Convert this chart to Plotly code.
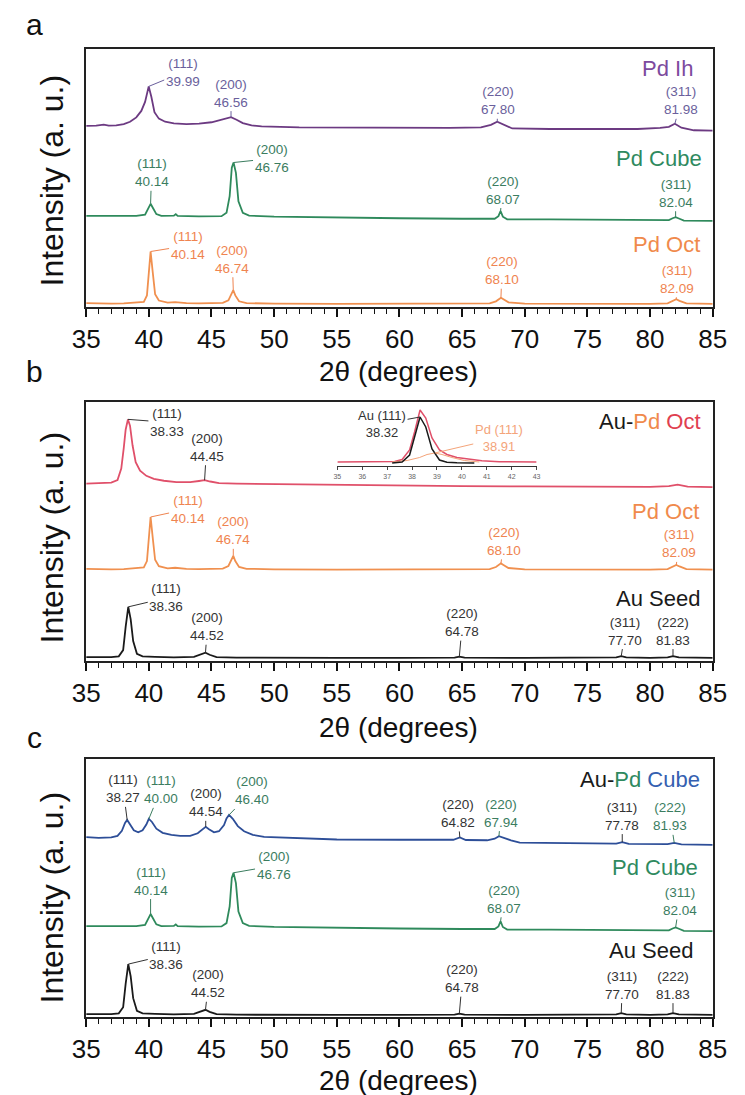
import numpy as np
import plotly.graph_objects as go

# ---------------------------------------------------------------------------
# Digitised XRD patterns: 2-theta (degrees) and intensity (a.u.) above each
# pattern's own baseline.
# ---------------------------------------------------------------------------
PD_IH_X = [35, 35.8, 36.4, 36.8, 37.4, 38.0, 38.5, 39.0, 39.4, 39.7, 39.99, 40.2, 40.45,
           40.8, 41.3, 42, 43, 44, 45, 45.6, 46.1, 46.56, 47.0, 47.5, 48.2, 49, 52, 56,
           60, 64, 66.5, 67.3, 67.8, 68.3, 69, 72, 76, 79, 80.8, 81.5, 81.98, 82.5, 83.5, 85]
PD_IH_Y = [0.2, 0.3, 0.7, 0.3, 0.4, 0.9, 1.8, 3.5, 6.0, 9.5, 15.5, 11.5, 5.5,
           3.0, 1.8, 1.2, 0.9, 1.1, 1.6, 2.3, 3.0, 3.6, 2.6, 1.3, 0.4, 0.0, -0.4, -0.5,
           -0.6, -0.6, -0.4, 0.6, 1.8, 0.6, -0.8, -1.0, -1.1, -1.0, -0.6, -0.2, 1.0, -0.5, -1.5, -1.6]

PD_CUBE_X = [35, 37, 39, 39.7, 39.95, 40.14, 40.35, 40.6, 41, 42.0, 42.15, 42.3, 44, 45.8,
             46.2, 46.45, 46.62, 46.76, 46.95, 47.15, 47.5, 48, 50, 55, 60, 65, 67.6, 67.9,
             68.07, 68.25, 68.6, 72, 76, 80, 81.5, 81.8, 82.04, 82.3, 82.7, 85]
PD_CUBE_Y = [0.3, 0.2, 0.3, 0.8, 3.0, 5.0, 3.2, 1.0, 0.3, 0.4, 1.0, 0.3, 0.1, 0.2,
             1.5, 8.0, 19.0, 21.0, 17.0, 6.0, 1.5, 0.4, 0.0, -0.4, -0.6, -0.8, -0.8, 0.2,
             2.2, 0.0, -1.0, -1.0, -1.2, -1.4, -1.3, -0.6, -0.2, -0.7, -1.5, -1.6]

PD_OCT_X = [35, 36, 37, 38, 39, 39.6, 39.85, 40.0, 40.14, 40.3, 40.5, 40.8, 41.5, 42.1, 43,
            44, 45, 45.9, 46.35, 46.6, 46.74, 46.9, 47.2, 47.8, 50, 55, 60, 65, 67.2, 67.7,
            67.95, 68.1, 68.3, 68.7, 70, 75, 80, 81.4, 81.85, 82.09, 82.35, 82.9, 85]
PD_OCT_Y = [0.5, 0.3, 0.3, 0.4, 0.6, 1.0, 3.5, 12.0, 20.5, 13.0, 4.0, 1.5, 0.7, 0.9, 0.5,
            0.4, 0.4, 0.6, 1.6, 4.0, 5.5, 3.5, 1.2, 0.5, 0.3, 0.2, 0.2, 0.2, 0.4, 1.2,
            2.2, 2.6, 2.0, 0.8, 0.3, 0.2, 0.2, 0.4, 1.3, 2.0, 1.4, 0.4, 0.2]

AU_SEED_X = [35, 36, 37, 37.6, 37.95, 38.15, 38.36, 38.55, 38.75, 39.05, 39.5, 40.5, 42,
             43.6, 44.2, 44.52, 44.85, 45.4, 47, 50, 55, 60, 64.4, 64.78, 65.2, 70, 75,
             77.3, 77.7, 78.1, 80, 81.4, 81.83, 82.3, 85]
AU_SEED_Y = [0.3, 0.2, 0.3, 0.6, 3.0, 12.0, 19.7, 15.0, 6.5, 1.6, 0.6, 0.4, 0.2,
             0.4, 1.3, 2.0, 1.2, 0.3, 0.1, 0.0, 0.0, 0.0, 0.1, 0.5, 0.1, 0.0, 0.0,
             0.2, 0.7, 0.2, 0.0, 0.2, 0.7, 0.2, 0.0]

AUPD_OCT_X = [35, 36, 37, 37.5, 37.8, 38.0, 38.15, 38.33, 38.5, 38.7, 38.95, 39.3, 39.8,
              40.4, 41.2, 42.2, 43.3, 44.0, 44.45, 44.9, 45.6, 47, 50, 55, 60, 65, 70, 75,
              80, 81.5, 82.2, 83, 85]
AUPD_OCT_Y = [0.2, 0.3, 0.6, 1.6, 6.0, 14.0, 21.0, 25.0, 22.5, 15.0, 8.5, 5.2, 3.2,
              2.0, 1.3, 0.8, 0.8, 1.2, 1.5, 1.0, 0.4, 0.2, 0.0, -0.3, -0.5, -0.8, -0.9, -1.0,
              -1.1, -0.8, -0.2, -1.0, -1.2]

AUPD_CUBE_X = [35, 36, 37, 37.5, 37.85, 38.1, 38.27, 38.5, 38.8, 39.15, 39.5, 39.8, 40.0,
               40.25, 40.6, 41.1, 41.8, 42.5, 43.3, 43.9, 44.3, 44.54, 44.8, 45.2, 45.6,
               46.0, 46.2, 46.4, 46.7, 47.1, 47.6, 48.3, 49.2, 51, 55, 60, 64.3, 64.82,
               65.3, 67.0, 67.6, 67.94, 68.3, 68.9, 69.6, 72, 77.3, 77.78, 78.3, 81.4,
               81.93, 82.5, 85]
AUPD_CUBE_Y = [0.3, 0.0, 0.2, 0.8, 2.8, 5.8, 7.0, 5.4, 3.0, 2.2, 3.0, 5.2, 7.4,
               6.2, 3.6, 2.0, 1.2, 0.8, 0.8, 1.8, 3.4, 4.3, 3.4, 2.2, 2.6,
               5.0, 7.6, 8.9, 7.4, 4.6, 2.6, 1.2, 0.4, 0.0, -0.6, -0.7, -0.7, 0.2,
               -0.8, -0.9, -0.3, 0.7, 0.0, -0.9, -1.8, -2.0, -2.2, -1.6, -2.3, -2.4,
               -1.9, -2.5, -2.7]

# Zoomed (111) region shown in the inset of panel b
INSET_AUPD_X = [35, 36, 37, 37.3, 37.6, 37.9, 38.1, 38.32, 38.55, 38.8, 39.1, 39.4, 39.8,
                40.3, 40.8, 41.5, 42, 43]
INSET_AUPD_Y = [0, 0, 0, 0.5, 2.5, 12, 30, 52, 44, 24, 12, 7.5, 4.5, 2.5, 1.2, 0.3, 0, 0]
INSET_AU_X = [37.2, 37.6, 37.9, 38.1, 38.32, 38.55, 38.8, 39.1, 39.4, 39.8, 40.5]
INSET_AU_Y = [0, 1, 8, 26, 46, 36, 14, 3, 0.8, 0.2, 0]
INSET_PD_X = [37.2, 37.8, 38.3, 38.6, 38.91, 39.2, 39.6, 40.1, 40.7]
INSET_PD_Y = [0, 1.5, 4.5, 7.5, 9, 7.5, 4.5, 1.5, 0]

# Indexed reflections (Miller indices and fitted peak positions)
PD_IH_HKL = ["(111)", "(200)", "(220)", "(311)"]
PD_IH_PEAKS = [39.99, 46.56, 67.80, 81.98]
PD_CUBE_HKL = ["(111)", "(200)", "(220)", "(311)"]
PD_CUBE_PEAKS = [40.14, 46.76, 68.07, 82.04]
PD_OCT_HKL = ["(111)", "(200)", "(220)", "(311)"]
PD_OCT_PEAKS = [40.14, 46.74, 68.10, 82.09]
AU_SEED_HKL = ["(111)", "(200)", "(220)", "(311)", "(222)"]
AU_SEED_PEAKS = [38.36, 44.52, 64.78, 77.70, 81.83]
AUPD_OCT_HKL = ["(111)", "(200)"]
AUPD_OCT_PEAKS = [38.33, 44.45]
AUPD_CUBE_HKL = ["(111)", "(111)", "(200)", "(200)", "(220)", "(220)", "(311)", "(222)"]
AUPD_CUBE_PEAKS = [38.27, 40.00, 44.54, 46.40, 64.82, 67.94, 77.78, 81.93]
AUPD_CUBE_PHASE = ["Au", "Pd", "Au", "Pd", "Au", "Pd", "Au", "Pd"]
INSET_AU_PEAK = 38.32
INSET_PD_PEAK = 38.91

X_TICKS = [35, 40, 45, 50, 55, 60, 65, 70, 75, 80, 85]
INSET_TICKS = [35, 36, 37, 38, 39, 40, 41, 42, 43]

# ---------------------------------------------------------------------------
# Styling
# ---------------------------------------------------------------------------
W, H = 745, 1095
FONT = "Liberation Sans, Arial, sans-serif"
NARROW = "Liberation Sans Narrow, Arial Narrow, Liberation Sans, Arial, sans-serif"
LABEL_SIZE = 13.5

C = {
    "ih_line": "#6c3a82", "ih_text": "#7d4a9e", "ih_lab": "#6a5f9c",
    "cube_line": "#2f8a5c", "cube_text": "#2f8a5f", "cube_lab": "#3b7d5f",
    "oct_line": "#f0904f", "oct_text": "#f08a4c", "oct_lab": "#ef8450",
    "aupd_oct_line": "#e0506a", "aupd_oct_text": "#e0404f",
    "aupd_cube_line": "#2d4e98", "aupd_cube_text": "#3460b0",
    "au_line": "#1a1a1a", "au_text": "#1a1a1a", "au_lab": "#333333",
    "inset_pd": "#f4a47a",
}

# vertical stacking offset of every pattern inside its panel (a.u.)
OFFSET = {
    "a_ih": 70.0, "a_cube": 35.0, "a_oct": 1.0,
    "b_aupd": 68.3, "b_oct": 35.1, "b_au": 1.2,
    "c_aupd": 69.4, "c_cube": 34.9, "c_au": 0.8,
    "i_aupd": 4.0, "i_au": 3.0, "i_pd": 4.0,
}

# pixel geometry of the three panels (top, bottom) and the inset
X0, X1 = 75, 726
PANELS = {"a": (49, 307), "b": (402, 661), "c": (759, 1017)}
INSET = (336, 543, 405, 466)


def ydom(top, bottom):
    return [1 - bottom / H, 1 - top / H]


fig = go.Figure()


def add_line(x, y, off, color, xa, ya, width=1.8):
    fig.add_trace(go.Scatter(
        x=x, y=[v + off for v in y], mode="lines",
        line=dict(color=color, width=width), xaxis=xa, yaxis=ya,
        hoverinfo="skip", showlegend=False))


# panel a
add_line(PD_IH_X, PD_IH_Y, OFFSET["a_ih"], C["ih_line"], "x", "y")
add_line(PD_CUBE_X, PD_CUBE_Y, OFFSET["a_cube"], C["cube_line"], "x", "y")
add_line(PD_OCT_X, PD_OCT_Y, OFFSET["a_oct"], C["oct_line"], "x", "y")
# panel b
add_line(AUPD_OCT_X, AUPD_OCT_Y, OFFSET["b_aupd"], C["aupd_oct_line"], "x2", "y2")
add_line(PD_OCT_X, PD_OCT_Y, OFFSET["b_oct"], C["oct_line"], "x2", "y2")
add_line(AU_SEED_X, AU_SEED_Y, OFFSET["b_au"], C["au_line"], "x2", "y2")
# panel c
add_line(AUPD_CUBE_X, AUPD_CUBE_Y, OFFSET["c_aupd"], C["aupd_cube_line"], "x3", "y3")
add_line(PD_CUBE_X, PD_CUBE_Y, OFFSET["c_cube"], C["cube_line"], "x3", "y3")
add_line(AU_SEED_X, AU_SEED_Y, OFFSET["c_au"], C["au_line"], "x3", "y3")
# inset
add_line(INSET_AUPD_X, INSET_AUPD_Y, OFFSET["i_aupd"], C["aupd_oct_line"], "x4", "y4", 1.5)
add_line(INSET_PD_X, INSET_PD_Y, OFFSET["i_pd"], C["inset_pd"], "x4", "y4", 1.0)
add_line(INSET_AU_X, INSET_AU_Y, OFFSET["i_au"], C["au_line"], "x4", "y4", 1.5)

annotations = []


def peak_labels(xref, yref, px, py, off, hkls, peaks, colors, shifts, size=LABEL_SIZE):
    for hkl, pk, col, (dx, dy) in zip(hkls, peaks, colors, shifts):
        ytop = off + float(np.interp(pk, px, py))
        annotations.append(dict(
            x=pk, y=ytop, xref=xref, yref=yref,
            text=f"{hkl}<br>{pk:.2f}", showarrow=True, arrowhead=0,
            arrowwidth=1, arrowcolor=col, ax=dx, ay=dy, standoff=0,
            font=dict(family=NARROW, size=size, color=col), align="center"))


peak_labels("x", "y", PD_IH_X, PD_IH_Y, OFFSET["a_ih"], PD_IH_HKL, PD_IH_PEAKS,
            [C["ih_lab"]] * 4, [(34, -14), (0, -24), (1, -21), (6, -23)])
peak_labels("x", "y", PD_CUBE_X, PD_CUBE_Y, OFFSET["a_cube"], PD_CUBE_HKL, PD_CUBE_PEAKS,
            [C["cube_lab"]] * 4, [(1, -31), (38, -4), (2, -21), (0, -24)])
peak_labels("x", "y", PD_OCT_X, PD_OCT_Y, OFFSET["a_oct"], PD_OCT_HKL, PD_OCT_PEAKS,
            [C["oct_lab"]] * 4, [(37, -6), (-1, -31), (1, -27), (1, -20)])

peak_labels("x2", "y2", AUPD_OCT_X, AUPD_OCT_Y, OFFSET["b_aupd"], AUPD_OCT_HKL, AUPD_OCT_PEAKS,
            [C["au_lab"]] * 2, [(39, 3), (2, -33)])
peak_labels("x2", "y2", PD_OCT_X, PD_OCT_Y, OFFSET["b_oct"], PD_OCT_HKL, PD_OCT_PEAKS,
            [C["oct_lab"]] * 4, [(37, -8), (0, -25), (3, -22), (3, -21)])
peak_labels("x2", "y2", AU_SEED_X, AU_SEED_Y, OFFSET["b_au"], AU_SEED_HKL, AU_SEED_PEAKS,
            [C["au_lab"]] * 5, [(38, -9), (2, -26), (3, -34), (4, -25), (0, -25)])

phase_col = {"Au": C["au_lab"], "Pd": C["cube_lab"]}
peak_labels("x3", "y3", AUPD_CUBE_X, AUPD_CUBE_Y, OFFSET["c_aupd"], AUPD_CUBE_HKL, AUPD_CUBE_PEAKS,
            [phase_col[p] for p in AUPD_CUBE_PHASE],
            [(-4, -31), (12, -29), (0, -24), (23, -24), (-2, -24), (2, -23), (0, -26), (-4, -26)])
peak_labels("x3", "y3", PD_CUBE_X, PD_CUBE_Y, OFFSET["c_cube"], PD_CUBE_HKL, PD_CUBE_PEAKS,
            [C["cube_lab"]] * 4, [(0, -33), (40, -7), (3, -22), (4, -26)])
peak_labels("x3", "y3", AU_SEED_X, AU_SEED_Y, OFFSET["c_au"], AU_SEED_HKL, AU_SEED_PEAKS,
            [C["au_lab"]] * 5, [(38, -9), (3, -26), (3, -35), (1, -28), (0, -28)])

# inset labels
for name, pk, px, py, off, col, shift in [
        ("Au (111)", INSET_AU_PEAK, INSET_AU_X, INSET_AU_Y, OFFSET["i_au"], C["au_lab"], (-38, 7)),
        ("Pd (111)", INSET_PD_PEAK, INSET_PD_X, INSET_PD_Y, OFFSET["i_pd"], C["inset_pd"], (64, -15))]:
    ytop = off + float(np.interp(pk, px, py))
    annotations.append(dict(
        x=pk, y=ytop, xref="x4", yref="y4", text=f"{name}<br>{pk:.2f}",
        showarrow=True, arrowhead=0, arrowwidth=1, arrowcolor=col, ax=shift[0], ay=shift[1],
        standoff=0, font=dict(family=NARROW, size=13, color=col), align="center"))


def series_label(text, xr, yc):
    annotations.append(dict(
        x=xr / W, y=1 - yc / H, xref="paper", yref="paper", xanchor="right",
        yanchor="middle", showarrow=False, text=text,
        font=dict(family=FONT, size=22, color=C["au_text"])))


def col(t, c):
    return f"<span style='color:{c}'>{t}</span>"


series_label(col("Pd Ih", C["ih_text"]), 708, 68)
series_label(col("Pd Cube", C["cube_text"]), 717, 158)
series_label(col("Pd Oct", C["oct_text"]), 715, 245)
series_label("Au-" + col("Pd", C["oct_text"]) + " " + col("Oct", C["aupd_oct_text"]), 716, 421)
series_label(col("Pd Oct", C["oct_text"]), 714, 511)
series_label("Au Seed", 715, 598)
series_label("Au-" + col("Pd", C["cube_text"]) + " " + col("Cube", C["aupd_cube_text"]), 715, 779)
series_label(col("Pd Cube", C["cube_text"]), 713, 867)
series_label("Au Seed", 708, 950)

# panel letters and axis titles
for letter, yc in [("a", 25), ("b", 372), ("c", 737)]:
    annotations.append(dict(x=21 / W, y=1 - yc / H, xref="paper", yref="paper",
                            text=letter, showarrow=False, xanchor="center", yanchor="middle",
                            font=dict(family=FONT, size=30, color="#111")))
for yc in [372, 727, 1080]:
    annotations.append(dict(x=400 / W, y=1 - yc / H, xref="paper", yref="paper",
                            text="2\u03b8 (degrees)", showarrow=False, xanchor="center",
                            yanchor="middle", font=dict(family=FONT, size=28, color="#111")))
for yc in [180, 537, 897]:
    annotations.append(dict(x=40 / W, y=1 - yc / H, xref="paper", yref="paper",
                            text="Intensity (a. u.)", textangle=-90, showarrow=False,
                            xanchor="center", yanchor="middle",
                            font=dict(family=FONT, size=32, color="#111")))

xcommon = dict(range=[35, 85], tickmode="array", tickvals=X_TICKS,
               ticks="outside", ticklen=8, tickwidth=1.5, tickcolor="#111",
               minor=dict(tickmode="linear", tick0=35, dtick=1, ticks="outside",
                          ticklen=5, tickwidth=1.2, tickcolor="#111"),
               showline=True, linewidth=2, linecolor="#222", mirror=True,
               showgrid=False, zeroline=False,
               tickfont=dict(family=FONT, size=26, color="#111"),
               domain=[X0 / W, X1 / W])
ycommon = dict(range=[0, 100], showline=True, linewidth=2, linecolor="#222", mirror=True,
               showticklabels=False, ticks="", showgrid=False, zeroline=False)

fig.update_layout(
    width=W, height=H, margin=dict(l=0, r=0, t=0, b=0),
    paper_bgcolor="white", plot_bgcolor="white", showlegend=False,
    xaxis=dict(**xcommon, anchor="y"),
    yaxis=dict(**ycommon, domain=ydom(*PANELS["a"]), anchor="x"),
    xaxis2=dict(**xcommon, anchor="y2"),
    yaxis2=dict(**ycommon, domain=ydom(*PANELS["b"]), anchor="x2"),
    xaxis3=dict(**xcommon, anchor="y3"),
    yaxis3=dict(**ycommon, domain=ydom(*PANELS["c"]), anchor="x3"),
    xaxis4=dict(range=[35, 43], domain=[INSET[0] / W, INSET[1] / W], anchor="y4",
                tickmode="array", tickvals=INSET_TICKS, ticks="outside", ticklen=3,
                tickwidth=1, tickcolor="#444", showline=True, linewidth=1.3,
                linecolor="#333", showgrid=False, zeroline=False,
                tickfont=dict(family=FONT, size=7, color="#666")),
    yaxis4=dict(range=[0, INSET[3] - INSET[2]], domain=ydom(INSET[2], INSET[3]),
                anchor="x4", visible=False),
    annotations=annotations,
)

fig.write_html("out.html")
